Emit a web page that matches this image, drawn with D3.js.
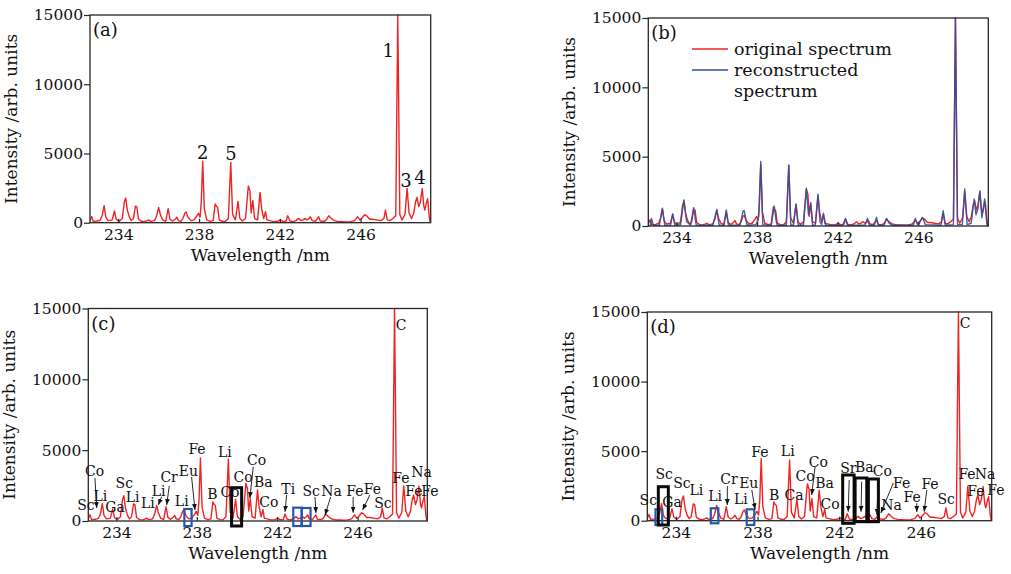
<!DOCTYPE html>
<html>
<head>
<meta charset="utf-8">
<script src="https://cdn.jsdelivr.net/npm/d3@7"></script>
<style>
  html, body { margin: 0; padding: 0; background: #fff; }
  svg { display: block; }
  text { font-family: "DejaVu Serif", serif; fill: #111; }
</style>
</head>
<body>
<svg id="chart" width="1011" height="574"></svg>
<script>
// ---- data -------------------------------------------------------------
const wavelengthRange = [232.6, 249.47];
const xTickValues = [234, 238, 242, 246];
const yTickValues = [0, 5000, 10000, 15000];
const intensityRange = [0, 15000];

// measured LIBS spectrum: [wavelength nm, intensity]
const originalSpectrum = [
  [232.6,150],[232.68,450],[232.76,100],[232.95,120],[233.1,180],[233.2,500],[233.3,1230],[233.38,400],
  [233.5,150],[233.7,200],[233.81,850],[233.9,250],[234.05,100],[234.2,300],[234.3,1500],[234.37,1780],
  [234.45,900],[234.55,400],[234.65,150],[234.75,300],[234.85,1200],[234.92,1150],[235.0,250],[235.15,100],
  [235.3,80],[235.45,150],[235.5,200],[235.6,100],[235.8,150],[235.9,500],[236.0,1100],[236.08,600],
  [236.2,200],[236.35,100],[236.47,1010],[236.56,250],[236.7,120],[236.82,250],[236.9,390],[236.98,150],
  [237.1,100],[237.2,300],[237.3,700],[237.36,770],[237.45,400],[237.6,150],[237.75,200],[237.9,500],
  [237.97,680],[238.05,400],[238.11,1500],[238.18,4450],[238.26,1000],[238.38,200],[238.55,100],[238.7,150],
  [238.8,1350],[238.85,1200],[238.92,1100],[239.0,200],[239.15,100],[239.3,80],[239.45,300],[239.57,4360],
  [239.66,600],[239.8,200],[239.93,1540],[240.02,300],[240.15,120],[240.3,300],[240.44,2650],[240.52,2300],
  [240.58,700],[240.66,1590],[240.75,300],[240.9,200],[241.02,2190],[241.1,1000],[241.2,300],[241.29,800],
  [241.36,200],[241.5,150],[241.7,80],[241.9,100],[242.02,200],[242.15,90],[242.3,100],[242.39,500],
  [242.5,120],[242.65,80],[242.8,150],[242.93,310],[243.05,150],[243.15,200],[243.26,310],[243.35,200],
  [243.45,300],[243.51,430],[243.6,150],[243.75,100],[243.92,430],[244.0,120],[244.2,100],[244.3,200],
  [244.42,500],[244.55,300],[244.7,150],[244.9,80],[245.1,70],[245.3,60],[245.5,80],[245.7,150],
  [245.85,430],[245.95,200],[246.05,300],[246.2,580],[246.3,500],[246.45,250],[246.6,250],[246.8,200],
  [247.0,150],[247.15,300],[247.23,910],[247.32,200],[247.45,150],[247.6,300],[247.74,500],[247.84,15000],
  [247.94,600],[248.05,200],[248.2,600],[248.3,2480],[248.4,700],[248.52,300],[248.63,680],[248.72,1500],
  [248.79,1830],[248.88,1160],[248.96,1500],[249.05,2460],[249.13,1200],[249.18,920],[249.27,1500],
  [249.32,1730],[249.4,400],[249.45,0]
];

// spectrum rebuilt from the fitted line components
const reconstructedSpectrum = [
  [232.6,0],[232.7,50],[232.76,550],[232.85,50],[233.15,50],[233.3,1280],[233.42,50],[233.7,50],
  [233.81,870],[233.92,50],[234.2,100],[234.37,1880],[234.5,300],[234.7,50],[234.85,1320],[234.98,50],
  [235.8,50],[236.0,1200],[236.12,50],[236.35,50],[236.47,1160],[236.58,50],[237.15,50],[237.3,1080],
  [237.36,1100],[237.5,50],[237.95,100],[238.08,700],[238.18,4650],[238.28,100],[238.7,50],[238.85,1450],
  [238.95,300],[239.0,50],[239.45,50],[239.57,4400],[239.67,50],[239.8,50],[239.93,1590],[240.04,50],
  [240.3,50],[240.44,2720],[240.55,800],[240.66,1690],[240.75,50],[240.88,50],[241.02,2290],[241.12,300],
  [241.2,100],[241.29,920],[241.4,50],[242.25,50],[242.38,550],[242.48,50],[243.35,50],[243.47,550],
  [243.57,50],[243.82,50],[243.92,630],[244.02,50],[244.3,50],[244.42,550],[244.55,200],[244.7,50],
  [245.75,50],[245.85,550],[245.95,100],[246.05,200],[246.2,630],[246.35,100],[247.12,50],[247.23,1110],
  [247.34,50],[247.74,100],[247.84,15000],[247.94,100],[248.18,100],[248.3,2670],[248.42,100],[248.62,200],
  [248.77,1950],[248.86,800],[248.95,1200],[249.05,2530],[249.15,600],[249.29,1950],[249.4,100],[249.45,0]
];

// numbered peaks in panel (a): [label, wavelength, intensity]
const numberedPeaks = [
  ["1", 247.37, 12470], ["2", 238.18, 5100], ["5", 239.58, 5030],
  ["3", 248.24, 3080], ["4", 248.94, 3230]
];

// element assignments, panel (c): [element, wl, intensity, arrowFrom, arrowTo]
const elementsC = [
  ["Sc", 232.48, 1130], ["Co", 232.91, 3530, [232.93, 3036], [233.02, 918]],
  ["Li", 233.2, 1780], ["Ga", 233.93, 1020], ["Sc", 234.39, 2683], ["Li", 234.81, 1694],
  ["Li", 235.56, 1300], ["Li", 236.1, 2100, [236.25, 1716], [236.08, 1130]],
  ["Cr", 236.62, 3100, [236.63, 2480], [236.5, 1130]], ["Li", 237.25, 1412],
  ["Eu", 237.58, 3530, [237.74, 3106], [237.91, 777]], ["Fe", 238.01, 5083],
  ["B", 238.77, 1906], ["Li", 239.4, 4871], ["Co", 239.65, 2047], ["Co", 240.3, 3106],
  ["Co", 240.98, 4307, [240.81, 3834], [240.64, 1624]], ["Ba", 241.31, 2753], ["Co", 241.58, 1341],
  ["Ti", 242.55, 2259, [242.47, 1836], [242.39, 657]],
  ["Sc", 243.69, 2118, [243.88, 1694], [243.93, 565]],
  ["Na", 244.71, 2118, [244.66, 1694], [244.38, 424]],
  ["Fe", 245.87, 2118, [245.78, 1694], [245.78, 586]],
  ["Fe", 246.74, 2259, [246.61, 1836], [246.25, 777]],
  ["Sc", 247.26, 1271], ["C", 248.17, 13840], ["Fe", 248.16, 3036], ["Na", 249.19, 3459],
  ["Fe", 248.8, 2118], ["Fe", 249.6, 2118]
];
// boxed regions, panel (c): [wlStart, wlEnd, lowIntensity, highIntensity, kind]
const boxesC = [
  [237.38, 237.74, -353, 847, "blue"], [242.8, 243.22, -353, 939, "blue"],
  [243.22, 243.66, -353, 918, "blue"], [239.73, 240.23, -353, 2351, "black"]
];

// element assignments, panel (d)
const elementsD = [
  ["Sc", 232.65, 1488], ["Sc", 233.43, 3356], ["Ga", 233.81, 1344], ["Sc", 234.3, 2720],
  ["Li", 235.0, 2206], ["Li", 235.92, 1775],
  ["Cr", 236.6, 3011, [236.52, 2494], [236.52, 1128]], ["Li", 237.18, 1560],
  ["Eu", 237.57, 2709, [237.72, 2206], [237.88, 819]], ["Fe", 238.12, 4959],
  ["B", 238.81, 1847], ["Li", 239.48, 4988], ["Ca", 239.79, 1847], ["Co", 240.33, 3213],
  ["Co", 240.98, 4240, [240.82, 3881], [240.65, 1847]], ["Ba", 241.28, 2745], ["Co", 241.55, 1200],
  ["Sr", 242.45, 3788, [242.49, 2925], [242.44, 647]],
  ["Ba", 243.23, 3859, [243.1, 2802], [243.07, 647]],
  ["Co", 244.11, 3572, [243.9, 2687], [243.85, 410]],
  ["Fe", 245.06, 2745, [244.65, 2709], [244.04, 553]], ["Na", 244.57, 1128],
  ["Fe", 245.57, 1703, [245.8, 1272], [245.8, 625]],
  ["Fe", 246.45, 2602, [246.29, 2206], [246.16, 647]],
  ["Sc", 247.24, 1560], ["C", 248.17, 14245], ["Fe", 248.26, 3356], ["Na", 249.15, 3356],
  ["Fe", 248.7, 2134], ["Fe", 249.68, 2206]
];
const boxesD = [
  [233.0, 233.33, -309, 819, "blue"], [235.71, 236.08, -187, 891, "blue"],
  [237.47, 237.84, -309, 819, "blue"], [233.14, 233.63, -309, 2444, "black"],
  [242.17, 242.73, -187, 3284, "black"], [242.78, 243.35, -72, 3069, "black"],
  [243.43, 243.92, -72, 2997, "black"]
];

const legendLabels = [["original spectrum"], ["reconstructed", "spectrum"]];

// ---- layout & style ---------------------------------------------------
const RED = "#ee2424";
const BLUE = "#2f4f9f";
const panels = [
  { id: "a", left: 90,    right: 430.7, top: 15,    bottom: 222.7 },
  { id: "b", left: 648.3, right: 988.3, top: 18,    bottom: 226   },
  { id: "c", left: 88.3,  right: 427.3, top: 308.5, bottom: 521   },
  { id: "d", left: 647.3, right: 991.7, top: 312,   bottom: 520.7 }
];

const svg = d3.select("#chart");

const defs = svg.append("defs");
defs.append("marker")
  .attr("id", "arrowhead")
  .attr("markerUnits", "userSpaceOnUse")
  .attr("viewBox", "0 0 10 10")
  .attr("refX", 10).attr("refY", 5)
  .attr("markerWidth", 6).attr("markerHeight", 6)
  .attr("orient", "auto")
  .append("path").attr("d", "M0,1 L10,5 L0,9 Z").attr("fill", "#111");

function drawPanel(p) {
  const x = d3.scaleLinear().domain(wavelengthRange).range([p.left, p.right]);
  const y = d3.scaleLinear().domain(intensityRange).range([p.bottom, p.top]);
  const g = svg.append("g").attr("class", "panel-" + p.id);

  defs.append("clipPath").attr("id", "clip-" + p.id)
    .append("rect")
    .attr("x", p.left).attr("y", p.top - 1)
    .attr("width", p.right - p.left).attr("height", p.bottom - p.top + 1);

  const line = d3.line().x(d => x(d[0])).y(d => y(d[1]));
  const plot = g.append("g").attr("clip-path", `url(#clip-${p.id})`);

  plot.append("path").datum(originalSpectrum)
    .attr("d", line).attr("fill", "none")
    .attr("stroke", RED).attr("stroke-width", 1.4).attr("stroke-linejoin", "round");

  if (p.id === "b") {
    plot.append("path").datum(reconstructedSpectrum)
      .attr("d", line).attr("fill", "none")
      .attr("stroke", BLUE).attr("stroke-width", 1.4).attr("stroke-opacity", 0.9)
      .attr("stroke-linejoin", "round");
  }

  // frame
  g.append("rect")
    .attr("x", p.left).attr("y", p.top)
    .attr("width", p.right - p.left).attr("height", p.bottom - p.top)
    .attr("fill", "none").attr("stroke", "#262626").attr("stroke-width", 1.3);

  // axes
  const xAxis = d3.axisBottom(x).tickValues(xTickValues).tickSize(-4).tickPadding(6)
    .tickFormat(d3.format("d"));
  const gx = g.append("g").attr("transform", `translate(0,${p.bottom})`).call(xAxis);
  const yAxis = d3.axisLeft(y).tickValues(yTickValues).tickSize(6).tickPadding(1)
    .tickFormat(d3.format("d"));
  const gy = g.append("g").attr("transform", `translate(${p.left},0)`).call(yAxis);
  [gx, gy].forEach(a => {
    a.select(".domain").remove();
    a.selectAll(".tick line").attr("stroke", "#262626").attr("stroke-width", 1.2);
    a.selectAll(".tick text").attr("font-family", "DejaVu Serif").attr("font-size", 15.5)
      .attr("fill", "#111");
  });

  g.append("text")
    .attr("x", (p.left + p.right) / 2).attr("y", p.bottom + 38)
    .attr("text-anchor", "middle").attr("font-size", 17)
    .text("Wavelength /nm");

  g.append("text")
    .attr("transform", `translate(${p.left - 73},${(p.top + p.bottom) / 2}) rotate(-90)`)
    .attr("text-anchor", "middle").attr("font-size", 17)
    .text("Intensity /arb. units");

  g.append("text")
    .attr("x", p.left + 3).attr("y", p.top + 21)
    .attr("font-size", 18)
    .text(`(${p.id})`);

  return { g, x, y };
}

const [pa, pb, pc, pd] = panels.map(drawPanel);

// panel (a): numbered peaks
pa.g.selectAll("text.peak").data(numberedPeaks).join("text")
  .attr("class", "peak")
  .attr("x", d => pa.x(d[1])).attr("y", d => pa.y(d[2]))
  .attr("text-anchor", "middle").attr("dominant-baseline", "central")
  .attr("font-size", 18)
  .text(d => d[0]);

// panel (b): legend
const legendLeft = 692, legendRows = [49, 70];
legendRows.forEach((ly, i) => {
  pb.g.append("line")
    .attr("x1", legendLeft).attr("x2", legendLeft + 36)
    .attr("y1", ly).attr("y2", ly)
    .attr("stroke", i === 0 ? RED : BLUE).attr("stroke-width", 1.4);
  legendLabels[i].forEach((t, j) => {
    pb.g.append("text")
      .attr("x", legendLeft + 42).attr("y", ly + j * 21)
      .attr("dominant-baseline", "central").attr("font-size", 17.5)
      .text(t);
  });
});

// panels (c) and (d): element labels, arrows and boxes
function annotate(panel, elements, boxes) {
  const { g, x, y } = panel;
  g.selectAll("rect.box").data(boxes).join("rect")
    .attr("class", "box")
    .attr("x", d => x(d[0])).attr("width", d => x(d[1]) - x(d[0]))
    .attr("y", d => y(d[3])).attr("height", d => y(d[2]) - y(d[3]))
    .attr("fill", "none")
    .attr("stroke", d => d[4] === "blue" ? "#2456b0" : "#0a0a0a")
    .attr("stroke-width", d => d[4] === "blue" ? 2.2 : 3);

  g.selectAll("line.arrow").data(elements.filter(d => d[3])).join("line")
    .attr("class", "arrow")
    .attr("x1", d => x(d[3][0])).attr("y1", d => y(d[3][1]))
    .attr("x2", d => x(d[4][0])).attr("y2", d => y(d[4][1]))
    .attr("stroke", "#111").attr("stroke-width", 0.9)
    .attr("marker-end", "url(#arrowhead)");

  g.selectAll("text.el").data(elements).join("text")
    .attr("class", "el")
    .attr("x", d => x(d[1])).attr("y", d => y(d[2]))
    .attr("text-anchor", "middle").attr("dominant-baseline", "central")
    .attr("font-size", 14)
    .text(d => d[0]);
}
annotate(pc, elementsC, boxesC);
annotate(pd, elementsD, boxesD);
</script>
</body>
</html>
